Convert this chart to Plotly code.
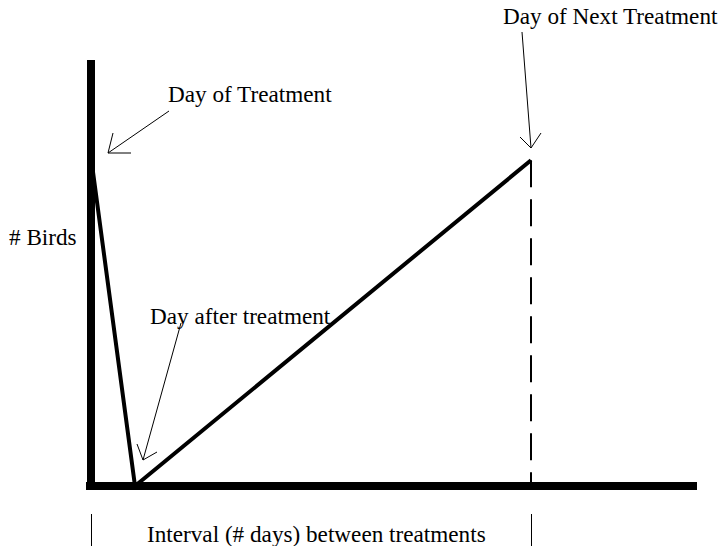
import plotly.graph_objects as go

# ---- data (schematic) ----
days = [0, 1, 10]              # day of treatment, day after, day of next treatment
birds = [100, 0, 99]           # relative number of birds
next_day = [10, 10]
next_birds = [99, 0]
interval_ticks = [0, 10]

labels = ["Day of Treatment", "Day after treatment", "Day of Next Treatment",
          "# Birds", "Interval (# days) between treatments"]

W, H = 724, 546
FONT = "Liberation Serif, Times New Roman, serif"


def px(x):
    return x / W


def py(y):
    return 1 - y / H


fig = go.Figure()

fig.add_trace(go.Scatter(x=days, y=birds, mode="lines",
                         line=dict(color="black", width=4),
                         hoverinfo="skip", showlegend=False))
fig.add_trace(go.Scatter(x=next_day, y=next_birds, mode="lines",
                         xaxis="x2", yaxis="y",
                         line=dict(color="black", width=2, dash="27px,12px"),
                         hoverinfo="skip", showlegend=False))

# text labels (pixel-positioned)
text_pos = [(250, 94), (240, 316), (610, 16), (43, 237), (316, 534)]
annotations = []
for t, (x, y) in zip(labels, text_pos):
    annotations.append(dict(text=t, x=px(x), y=py(y), xref="paper", yref="paper",
                            xanchor="center", yanchor="middle", showarrow=False,
                            font=dict(family=FONT, size=23.2, color="black")))

# arrows: tail, tip, two arms (pixels)
arrows = [
    ((169, 111), (108, 153), (113, 133), (131, 153)),
    ((522, 32), (531, 148), (520, 137), (541, 133)),
    ((181, 323), (143, 460), (137, 444), (157, 452)),
]
shapes = []
for tail, tip, a1, a2 in arrows:
    for p in (tail, a1, a2):
        shapes.append(dict(type="line", xref="paper", yref="paper",
                           x0=px(p[0]), y0=py(p[1]), x1=px(tip[0]), y1=py(tip[1]),
                           line=dict(color="black", width=1)))

xr = [-5 / 44, 606 / 44]
yr = [-4 / 3.29, 426 / 3.29]

fig.update_layout(
    width=W, height=H,
    margin=dict(l=0, r=0, t=0, b=0),
    paper_bgcolor="white", plot_bgcolor="white",
    xaxis=dict(domain=[86 / W, 697 / W], range=xr, showgrid=False,
               showticklabels=False, ticks="", zeroline=True,
               zerolinecolor="black", zerolinewidth=8, showline=False),
    xaxis2=dict(overlaying="x", anchor="free", position=py(513), side="bottom",
                range=xr, showgrid=False, zeroline=False, showline=False,
                showticklabels=False, ticks="outside", ticklen=33, tickwidth=1,
                tickcolor="black", tickvals=interval_ticks),
    yaxis=dict(domain=[py(490), py(60)], range=yr, showgrid=False,
               showticklabels=False, ticks="", zeroline=True,
               zerolinecolor="black", zerolinewidth=8, showline=False),
    annotations=annotations,
    shapes=shapes,
)

fig.write_html("out.html",
               config={"displayModeBar": False},
               post_script="document.body.style.margin='0';"
                           "document.body.style.overflow='hidden';")
